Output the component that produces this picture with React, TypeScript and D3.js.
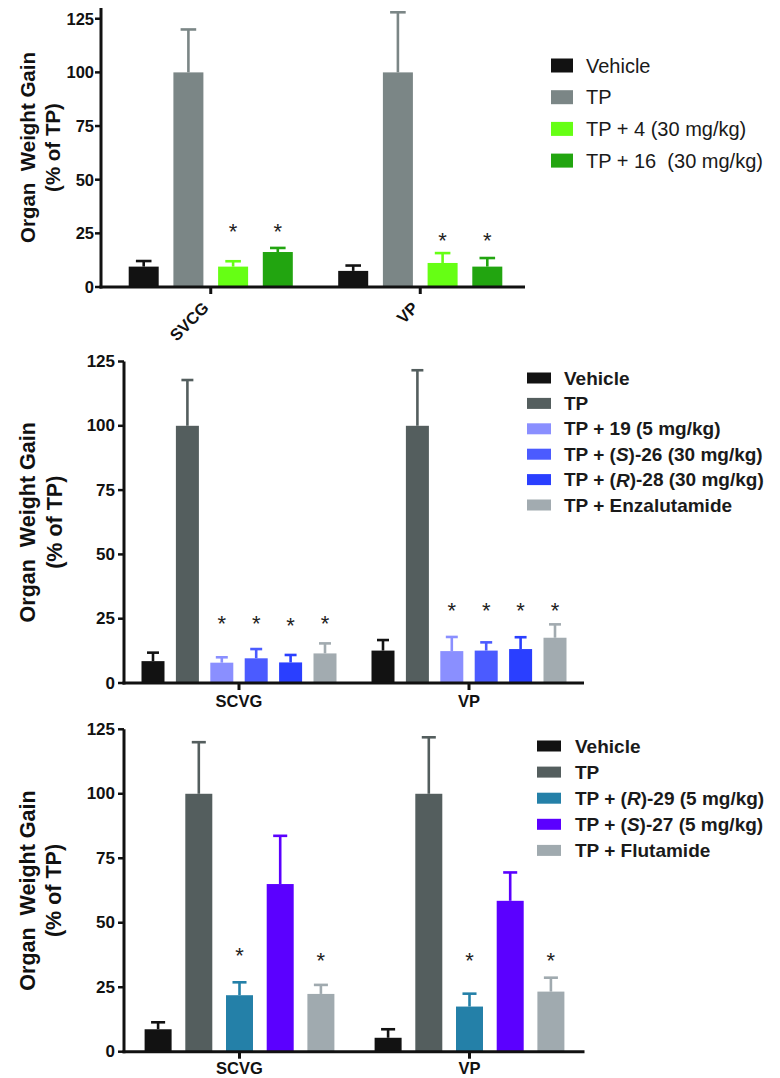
import React from "react";
import * as d3 from "d3";

// ---------- Panel 1 ----------
const groups1 = ["SVCG", "VP"];
const series1 = ["Vehicle", "TP", "TP + 4 (30 mg/kg)", "TP + 16  (30 mg/kg)"];
const colors1 = ["#121212", "#7b8686", "#66ff14", "#22a510"];
const means1 = [[9.5, 7.5], [100, 100], [9.5, 11.2], [16.3, 9.5]];
const errs1 = [[2.6, 2.5], [20, 28], [2.5, 4.6], [1.9, 4.0]];
const stars1 = [[null, null], [null, null], [27.5, 23.3], [27.5, 23.3]];

// ---------- Panel 2 ----------
const groups2 = ["SCVG", "VP"];
const series2 = ["Vehicle", "TP", "TP + 19 (5 mg/kg)", "TP + (S)-26 (30 mg/kg)", "TP + (R)-28 (30 mg/kg)", "TP + Enzalutamide"];
const colors2 = ["#121212", "#545e5e", "#8a8fff", "#4b5bff", "#2a3fff", "#a2abb0"];
const means2 = [[8.5, 12.6], [100, 100], [7.9, 12.4], [9.6, 12.6], [8.0, 13.2], [11.5, 17.6]];
const errs2 = [[3.3, 4.1], [17.8, 21.6], [2.1, 5.5], [3.6, 3.2], [2.9, 4.6], [3.9, 5.2]];
const stars2 = [[null, null], [null, null], [24.5, 29.7], [24.5, 29.7], [24.0, 29.7], [24.5, 29.7]];

// ---------- Panel 3 ----------
const groups3 = ["SCVG", "VP"];
const series3 = ["Vehicle", "TP", "TP + (R)-29 (5 mg/kg)", "TP + (S)-27 (5 mg/kg)", "TP + Flutamide"];
const colors3 = ["#121212", "#545e5e", "#2480a8", "#5b00ff", "#a0aaaf"];
const means3 = [[8.7, 5.4], [100, 100], [21.9, 17.5], [65, 58.5], [22.4, 23.3]];
const errs3 = [[2.7, 3.3], [20, 21.9], [5.0, 5.0], [18.7, 11.0], [3.5, 5.4]];
const stars3 = [[null, null], [null, null], [38.8, 36.8], [null, null], [37.0, 36.8]];

const yTicks = [0, 25, 50, 75, 100, 125];
const yLabel1 = "Organ  Weight Gain";
const yLabel2 = "(% of TP)";

const FONT = "'Liberation Sans', Arial, Helvetica, sans-serif";

function renderLegendLabel(label: string) {
  const m = label.match(/^(.*\()([SR])(\).*)$/);
  if (!m) return label;
  return (
    <>
      {m[1]}
      <tspan fontStyle="italic">{m[2]}</tspan>
      {m[3]}
    </>
  );
}

type PanelProps = {
  groups: string[];
  series: string[];
  colors: string[];
  means: number[][];
  errs: number[][];
  stars: (number | null)[][];
  yDomain: [number, number];
  yBottom: number;
  yTop: number;
  axisX: number;
  xLeft: number;
  xRight: number;
  step: number;
  barW: number;
  tickFont: number;
  tickLabelX: number;
  catFont: number;
  catY: number;
  catDx: number;
  rotateCat: boolean;
  yLabelX1: number;
  yLabelX2: number;
  yLabelFont: number;
  legendX: number;
  legendY0: number;
  legendDy: number;
  swW: number;
  swH: number;
  legendTextX: number;
  legendFont: number;
  legendBold: boolean;
};

function Panel(p: PanelProps) {
  const y = d3.scaleLinear().domain(p.yDomain).range([p.yBottom, p.yTop]);
  const gx = d3.scaleBand().domain(p.groups).range([p.xLeft, p.xRight]).padding(0);
  const n = p.series.length;
  const pad = 1 - p.barW / p.step;
  const innerW = n * p.step;
  const inner = d3.scaleBand().domain(p.series).range([0, innerW]).paddingInner(pad).paddingOuter(pad / 2);
  const bw = inner.bandwidth();
  const capW = bw * 0.52;
  const y0 = y(0);
  const yMid = (y(p.yDomain[1]) + y0) / 2;

  return (
    <g fontFamily={FONT}>
      {/* bars */}
      {p.series.map((s, i) =>
        p.groups.map((g, j) => {
          const x = (gx(g) as number) + (gx.bandwidth() - innerW) / 2 + (inner(s) as number);
          const cx = x + bw / 2;
          const m = p.means[i][j];
          const e = p.errs[i][j];
          const st = p.stars[i][j];
          return (
            <g key={s + g}>
              <line x1={cx} x2={cx} y1={y(m)} y2={y(m + e)} stroke={p.colors[i]} strokeWidth={2.6} />
              <line x1={cx - capW / 2} x2={cx + capW / 2} y1={y(m + e)} y2={y(m + e)} stroke={p.colors[i]} strokeWidth={2.6} />
              <rect x={x} y={y(m)} width={bw} height={y0 - y(m)} fill={p.colors[i]} />
              {st !== null && (
                <text x={cx} y={y(st as number) + 4} textAnchor="middle" dominantBaseline="central" fontSize={22} fill="#222">
                  *
                </text>
              )}
            </g>
          );
        })
      )}
      {/* y axis */}
      <line x1={p.axisX} x2={p.axisX} y1={y(p.yDomain[1])} y2={y0 + 1.5} stroke="#111" strokeWidth={3} />
      {yTicks.map((t) => (
        <g key={t}>
          <line x1={p.axisX - 6} x2={p.axisX} y1={y(t)} y2={y(t)} stroke="#111" strokeWidth={2.5} />
          <text x={p.tickLabelX} y={y(t)} textAnchor="end" dominantBaseline="central" fontSize={p.tickFont} fontWeight="bold" fill="#111">
            {t}
          </text>
        </g>
      ))}
      {/* x axis */}
      <line x1={p.axisX - 1.5} x2={p.xRight} y1={y0} y2={y0} stroke="#111" strokeWidth={3} />
      {p.groups.map((g) => {
        const cx = (gx(g) as number) + gx.bandwidth() / 2;
        return (
          <g key={g}>
            <line x1={cx} x2={cx} y1={y0} y2={y0 + 7} stroke="#111" strokeWidth={3} />
            {p.rotateCat ? (
              <text
                transform={`translate(${cx + p.catDx},${p.catY}) rotate(-45)`}
                textAnchor="end"
                fontSize={p.catFont}
                fontWeight="bold"
                fill="#111"
              >
                {g}
              </text>
            ) : (
              <text x={cx} y={p.catY} textAnchor="middle" fontSize={p.catFont} fontWeight="bold" fill="#111">
                {g}
              </text>
            )}
          </g>
        );
      })}
      {/* y label */}
      <text
        transform={`translate(${p.yLabelX1},${yMid}) rotate(-90)`}
        textAnchor="middle"
        dominantBaseline="central"
        fontSize={p.yLabelFont}
        fontWeight="bold"
        fill="#111"
        style={{ whiteSpace: "pre" }}
      >
        {yLabel1}
      </text>
      <text
        transform={`translate(${p.yLabelX2},${yMid}) rotate(-90)`}
        textAnchor="middle"
        dominantBaseline="central"
        fontSize={p.yLabelFont}
        fontWeight="bold"
        fill="#111"
      >
        {yLabel2}
      </text>
      {/* legend */}
      {p.series.map((s, i) => {
        const cy = p.legendY0 + i * p.legendDy;
        return (
          <g key={"lg" + s}>
            <rect x={p.legendX} y={cy - p.swH / 2} width={p.swW} height={p.swH} fill={p.colors[i]} />
            <text
              x={p.legendTextX}
              y={cy}
              dominantBaseline="central"
              fontSize={p.legendFont}
              fontWeight={p.legendBold ? "bold" : "normal"}
              fill="#1a1a1a"
              style={{ whiteSpace: "pre" }}
            >
              {renderLegendLabel(s)}
            </text>
          </g>
        );
      })}
    </g>
  );
}

export default function App() {
  return (
    <svg
      width={780}
      height={1078}
      style={{ position: "absolute", left: 0, top: 0, background: "#fff" }}
    >
      <rect width={780} height={1078} fill="#fff" />
      <Panel
        groups={groups1}
        series={series1}
        colors={colors1}
        means={means1}
        errs={errs1}
        stars={stars1}
        yDomain={[0, 130]}
        yBottom={287}
        yTop={8}
        axisX={101}
        xLeft={106}
        xRight={525}
        step={44.7}
        barW={30}
        tickFont={16.5}
        tickLabelX={94}
        catFont={16.5}
        catY={309}
        catDx={-1}
        rotateCat={true}
        yLabelX1={27}
        yLabelX2={52}
        yLabelFont={20.5}
        legendX={551}
        legendY0={65.5}
        legendDy={31.7}
        swW={22}
        swH={14}
        legendTextX={586}
        legendFont={20}
        legendBold={false}
      />
      <Panel
        groups={groups2}
        series={series2}
        colors={colors2}
        means={means2}
        errs={errs2}
        stars={stars2}
        yDomain={[0, 125]}
        yBottom={683}
        yTop={361.5}
        axisX={124}
        xLeft={124}
        xRight={584}
        step={34.4}
        barW={23}
        tickFont={17}
        tickLabelX={115}
        catFont={16.5}
        catY={707}
        catDx={0}
        rotateCat={false}
        yLabelX1={28}
        yLabelX2={55}
        yLabelFont={21.5}
        legendX={527}
        legendY0={378}
        legendDy={25.4}
        swW={24}
        swH={11}
        legendTextX={564}
        legendFont={19}
        legendBold={true}
      />
      <Panel
        groups={groups3}
        series={series3}
        colors={colors3}
        means={means3}
        errs={errs3}
        stars={stars3}
        yDomain={[0, 125]}
        yBottom={1051.7}
        yTop={729.3}
        axisX={124}
        xLeft={124.5}
        xRight={584.5}
        step={40.7}
        barW={27}
        tickFont={17}
        tickLabelX={115}
        catFont={16.5}
        catY={1074}
        catDx={0}
        rotateCat={false}
        yLabelX1={28}
        yLabelX2={54}
        yLabelFont={21.5}
        legendX={537}
        legendY0={746}
        legendDy={26.1}
        swW={24}
        swH={11}
        legendTextX={575}
        legendFont={19}
        legendBold={true}
      />
    </svg>
  );
}
